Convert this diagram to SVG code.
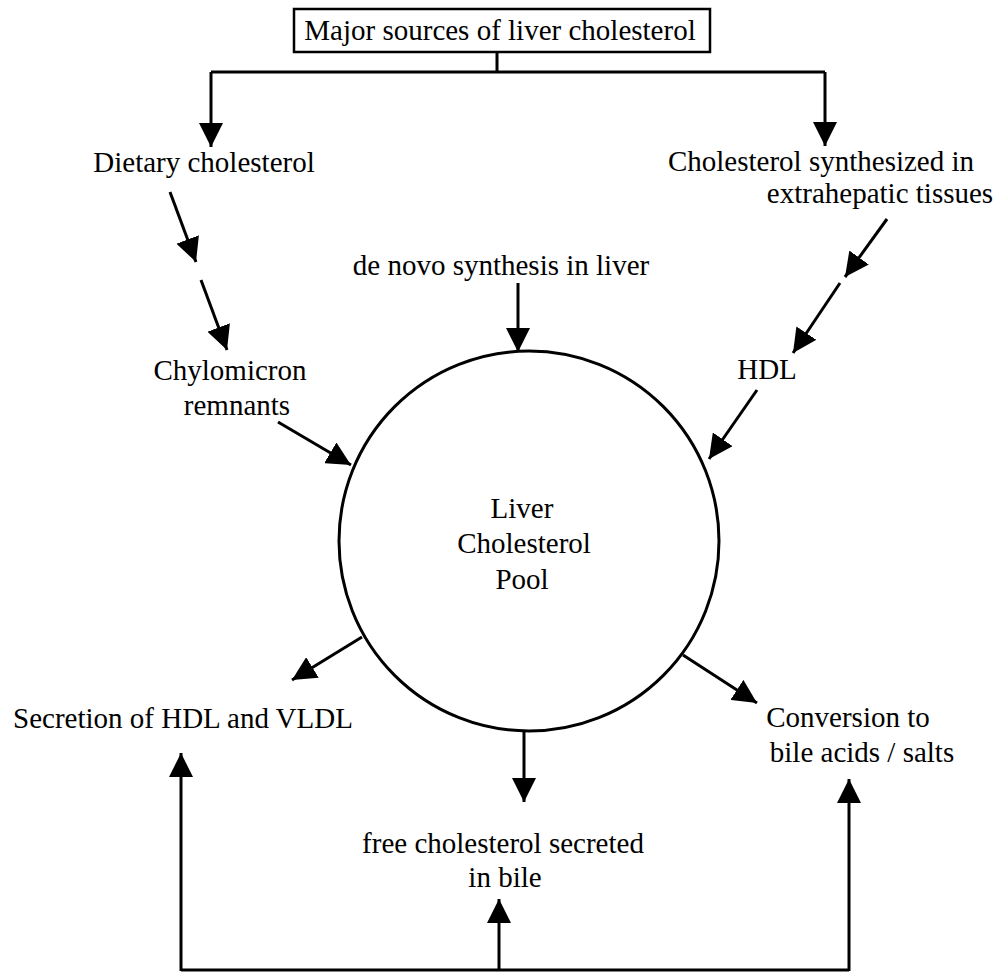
<svg xmlns="http://www.w3.org/2000/svg" width="999" height="973" viewBox="0 0 999 973">
<style>
text{font-family:"Liberation Serif","Times New Roman",serif;font-size:29px;fill:#000;text-anchor:middle}
.ln{stroke:#000;stroke-width:3;fill:none}
.ar{stroke:#000;stroke-width:3;fill:none;marker-end:url(#ah)}
</style>
<defs>
<marker id="ah" markerUnits="userSpaceOnUse" markerWidth="24" markerHeight="24" refX="22" refY="11" orient="auto" viewBox="0 0 22 22">
<path d="M0,0 L22,11 L0,22 z" fill="#000"/>
</marker>
</defs>
<rect width="999" height="973" fill="#fff"/>
<g id="title">
<rect x="294" y="9" width="416" height="43" fill="#fff" stroke="#000" stroke-width="2.5"/>
<text x="500" y="40">Major sources of liver cholesterol</text>
</g>
<g id="dietary"><text x="204" y="172">Dietary cholesterol</text></g>
<g id="extrahepatic"><text x="821" y="171">Cholesterol synthesized in</text><text x="880" y="203">extrahepatic tissues</text></g>
<g id="denovo"><text x="501" y="275">de novo synthesis in liver</text></g>
<g id="chylomicron"><text x="230" y="380">Chylomicron</text><text x="237" y="415">remnants</text></g>
<g id="hdl"><text x="767" y="379">HDL</text></g>
<g id="pool">
<circle cx="529" cy="541" r="190" fill="none" stroke="#000" stroke-width="3"/>
<text x="522" y="518">Liver</text><text x="524" y="553">Cholesterol</text><text x="522" y="589">Pool</text>
</g>
<g id="secretion"><text x="183" y="728">Secretion of HDL and VLDL</text></g>
<g id="conversion"><text x="848" y="727">Conversion to</text><text x="862" y="762">bile acids / salts</text></g>
<g id="bile"><text x="503" y="853">free cholesterol secreted</text><text x="505" y="887">in bile</text></g>
<g id="connectors">
<path class="ln" d="M497,52 V72 M211,72 H825"/>
<path class="ar" d="M211,72 V147"/>
<path class="ar" d="M825,72 V146"/>
<path class="ar" d="M170,192 L196,262"/>
<path class="ar" d="M201,280 L227,350"/>
<path class="ar" d="M518,283 V352"/>
<path class="ar" d="M887,219 L845,277"/>
<path class="ar" d="M840,283 L793,353"/>
<path class="ar" d="M757,390 L709,459"/>
<path class="ar" d="M278,422 L351,465"/>
<path class="ar" d="M362,637 L292,680"/>
<path class="ar" d="M524,731 V802"/>
<path class="ar" d="M683,655 L757,703"/>
<path class="ln" d="M181,970 H849"/>
<path class="ar" d="M181,971 V753"/>
<path class="ar" d="M499,970 V899"/>
<path class="ar" d="M849,971 V779"/>
</g>
</svg>
